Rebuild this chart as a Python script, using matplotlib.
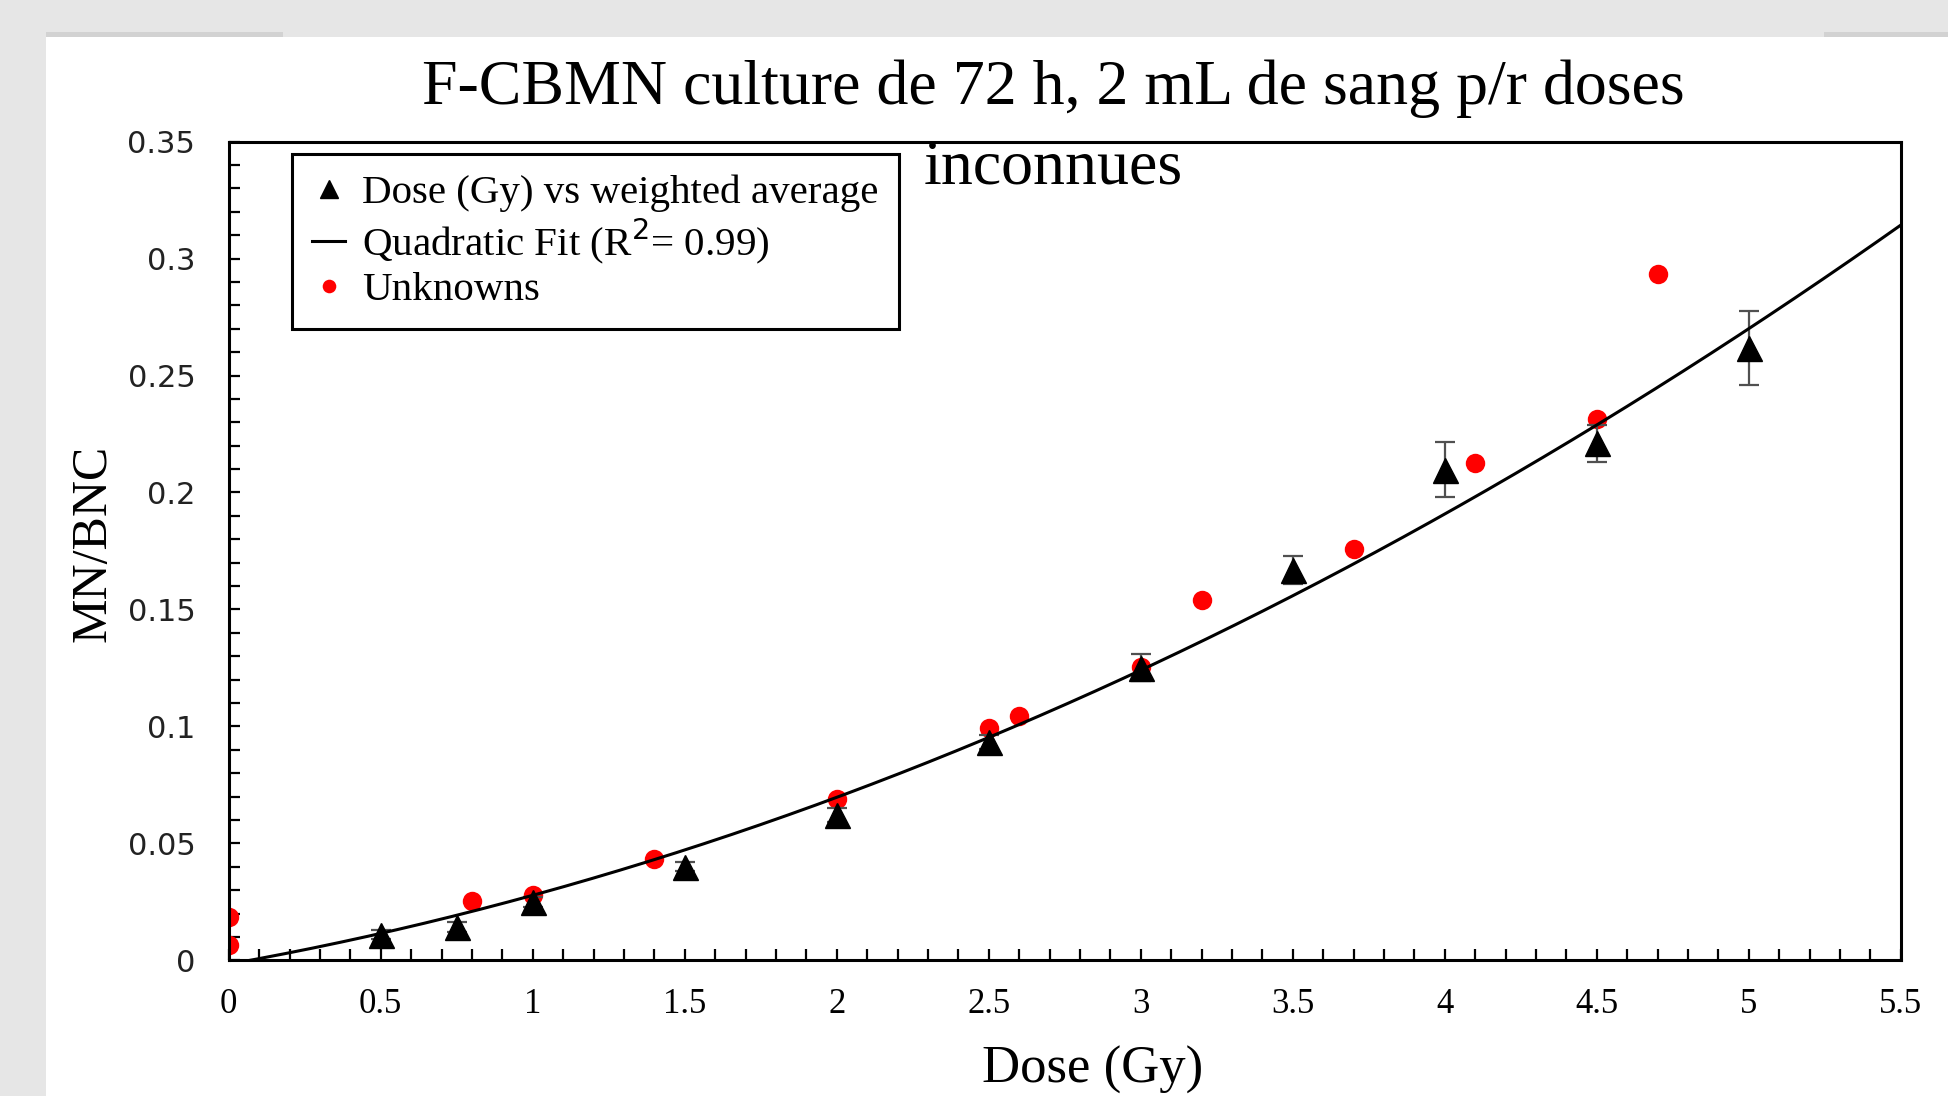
import matplotlib
matplotlib.use('Agg')
import matplotlib.pyplot as plt
from matplotlib.patches import Rectangle
from matplotlib.ticker import MultipleLocator, FormatStrFormatter
import numpy as np

# weighted averages (triangles) with error bars
dose = [0.5, 0.75, 1.0, 1.5, 2.0, 2.5, 3.0, 3.5, 4.0, 4.5, 5.0]
mn_bnc = [0.011, 0.0143, 0.025, 0.040, 0.062, 0.0935, 0.125, 0.1667, 0.2098, 0.221, 0.2618]
mn_err = [0.002, 0.002, 0.002, 0.002, 0.003, 0.003, 0.0058, 0.006, 0.0118, 0.008, 0.0158]

# unknowns (red dots)
unk_dose = [0.0, 0.0, 0.8, 1.0, 1.4, 2.0, 2.5, 2.6, 3.0, 3.2, 3.7, 4.1, 4.5, 4.7]
unk_val = [0.0186, 0.0064, 0.0255, 0.0281, 0.0435, 0.069, 0.0993, 0.1046,
           0.1253, 0.154, 0.1758, 0.2127, 0.2313, 0.2934]

# quadratic fit y = b*x^2 + a*x + c, as drawn
fit_coef = [0.006224, 0.02322, -0.001656]

title_lines = ['F-CBMN culture de 72 h, 2 mL de sang p/r doses', 'inconnues']

serif = 'Liberation Serif'

fig = plt.figure(figsize=(19.48, 10.96), dpi=100, facecolor='#e6e6e6')
# slide background
fig.patches.append(Rectangle((46 / 1948, 0), 1, 1 - 37 / 1096, transform=fig.transFigure,
                             facecolor='white', edgecolor='none', zorder=-10))
fig.patches.append(Rectangle((46 / 1948, 1 - 37 / 1096), (283 - 46) / 1948, 5 / 1096,
                             transform=fig.transFigure, facecolor='#d2d2d2',
                             edgecolor='none', zorder=-10))
fig.patches.append(Rectangle((1824 / 1948, 1 - 37 / 1096), 1, 5 / 1096,
                             transform=fig.transFigure, facecolor='#d2d2d2',
                             edgecolor='none', zorder=-10))

ax = fig.add_axes([0.1174, 0.1238, 0.8584, 0.747])
ax.set_zorder(1)
ax.set_facecolor('white')

ax.plot(unk_dose, unk_val, 'o', color='#ff0000', markersize=14, mec='none',
        label='Unknowns', zorder=2)
ax.errorbar(dose, mn_bnc, yerr=mn_err, fmt='none', ecolor='#505050', elinewidth=1.6,
            capsize=7, capthick=1.6, zorder=3)
ax.plot(dose, mn_bnc, '^', color='black', markersize=18,
        label='Dose (Gy) vs weighted average', zorder=3)
xs = np.linspace(0, 5.5, 300)
ax.plot(xs, np.polyval(fit_coef, xs), color='black', lw=2.2,
        label='Quadratic Fit (R$^2$= 0.99)', zorder=4)

ax.set_xlim(0, 5.5)
ax.set_ylim(0, 0.35)
ax.xaxis.set_major_locator(MultipleLocator(0.5))
ax.xaxis.set_minor_locator(MultipleLocator(0.1))
ax.yaxis.set_major_locator(MultipleLocator(0.05))
ax.yaxis.set_minor_locator(MultipleLocator(0.01))
ax.xaxis.set_major_formatter(FormatStrFormatter('%g'))
ax.yaxis.set_major_formatter(FormatStrFormatter('%g'))
ax.tick_params(which='both', direction='in', length=8, width=1.6, top=False, right=False)
ax.tick_params(axis='x', pad=20)
ax.tick_params(axis='y', pad=24)
for lab in ax.get_xticklabels():
    lab.set_fontfamily(serif)
    lab.set_fontsize(25)
for lab in ax.get_yticklabels():
    lab.set_fontfamily('DejaVu Sans')
    lab.set_fontsize(22)
    lab.set_color('#222222')
for sp in ax.spines.values():
    sp.set_linewidth(2.2)

fig.text(1053 / 1948, 1 - 60 / 1096, title_lines[0],
         ha='center', va='top', fontsize=46, family=serif, zorder=10)
fig.text(1053 / 1948, 1 - 139 / 1096, title_lines[1],
         ha='center', va='top', fontsize=46, family=serif, zorder=10)
fig.text(1093 / 1948, 1 - 1070 / 1096, 'Dose (Gy)', ha='center', va='center',
         fontsize=38, family=serif)
fig.text(93 / 1948, 1 - 543 / 1096, 'MN/BNC', ha='center', va='center', rotation=90,
         fontsize=36, family=serif)

h, l = ax.get_legend_handles_labels()
order = [1, 2, 0]
leg = ax.legend([h[i] for i in order], [l[i] for i in order], loc='upper left',
                bbox_to_anchor=(292 / 1948, 1 - 154 / 1096),
                bbox_transform=fig.transFigure, borderaxespad=0,
                prop={'family': serif, 'size': 29.5}, fancybox=False, framealpha=1,
                edgecolor='black', handlelength=0.8, handletextpad=0.4,
                labelspacing=0.12, markerscale=0.7, borderpad=0.5)
leg.get_frame().set_linewidth(2.2)

fig.savefig('out.png', dpi=100, facecolor=fig.get_facecolor())
